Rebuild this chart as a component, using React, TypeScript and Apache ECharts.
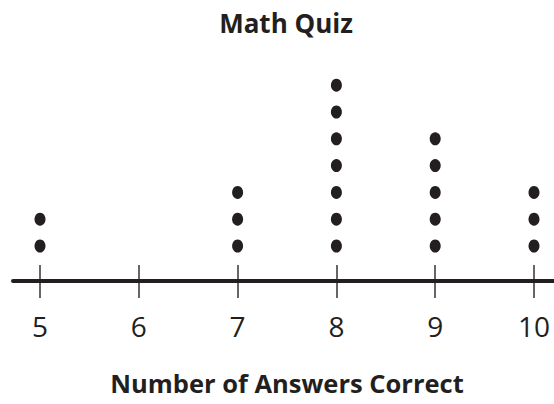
import React, { useEffect, useRef } from "react";
import * as echarts from "echarts";

const title = "Math Quiz";
const axisTitle = "Number of Answers Correct";
const scores = [5, 6, 7, 8, 9, 10];
const counts = [2, 0, 3, 7, 5, 3];

export default function App() {
  const ref = useRef<HTMLDivElement>(null);
  useEffect(() => {
    document.body.style.margin = "0";
    const chart = echarts.init(ref.current!, null, { renderer: "svg" });
    const points: number[][] = [];
    scores.forEach((s, i) => {
      for (let k = 1; k <= counts[i]; k++) points.push([s, k]);
    });
    const font = "'Open Sans', sans-serif";
    const ink = "#231f20";
    chart.setOption({
      animation: false,
      backgroundColor: "#ffffff",
      title: {
        text: title,
        left: 281,
        textAlign: "center",
        top: 5,
        textStyle: { fontFamily: font, fontWeight: 700, fontSize: 26, color: ink },
      },
      grid: [
        { left: 40, width: 494, top: 58.4, height: 214.4 },
        { left: 13, right: 0, top: 200, height: 81 },
        { left: 40, width: 494, top: 265, height: 33 },
      ],
      xAxis: [
        {
          gridIndex: 0,
          type: "value",
          min: 5,
          max: 10,
          show: false,
        },
        {
          gridIndex: 1,
          type: "value",
          min: 0,
          max: 1,
          axisLine: { show: true, lineStyle: { color: ink, width: 4 } },
          axisTick: { show: false },
          axisLabel: { show: false },
          splitLine: { show: false },
        },
        {
          gridIndex: 2,
          type: "value",
          min: 5,
          max: 10,
          interval: 1,
          axisLine: { show: false },
          axisTick: { show: false },
          splitLine: { show: true, lineStyle: { color: "#333333", width: 1.5 } },
          axisLabel: {
            margin: 14,
            fontFamily: font,
            fontSize: 28,
            color: ink,
          },
          name: axisTitle,
          nameLocation: "middle",
          nameGap: 72,
          nameTextStyle: { fontFamily: font, fontWeight: 700, fontSize: 25.5, color: ink },
        },
      ],
      yAxis: [
        { gridIndex: 0, type: "value", min: 0, max: 8, show: false },
        { gridIndex: 1, type: "value", show: false },
        { gridIndex: 2, type: "value", show: false },
      ],
      series: [
        {
          type: "scatter",
          xAxisIndex: 0,
          yAxisIndex: 0,
          symbol: "circle",
          symbolSize: [11, 13],
          itemStyle: { color: ink, opacity: 1 },
          data: points,
        },
      ],
    });
    return () => chart.dispose();
  }, []);
  return <div ref={ref} style={{ width: 554, height: 404 }} />;
}
